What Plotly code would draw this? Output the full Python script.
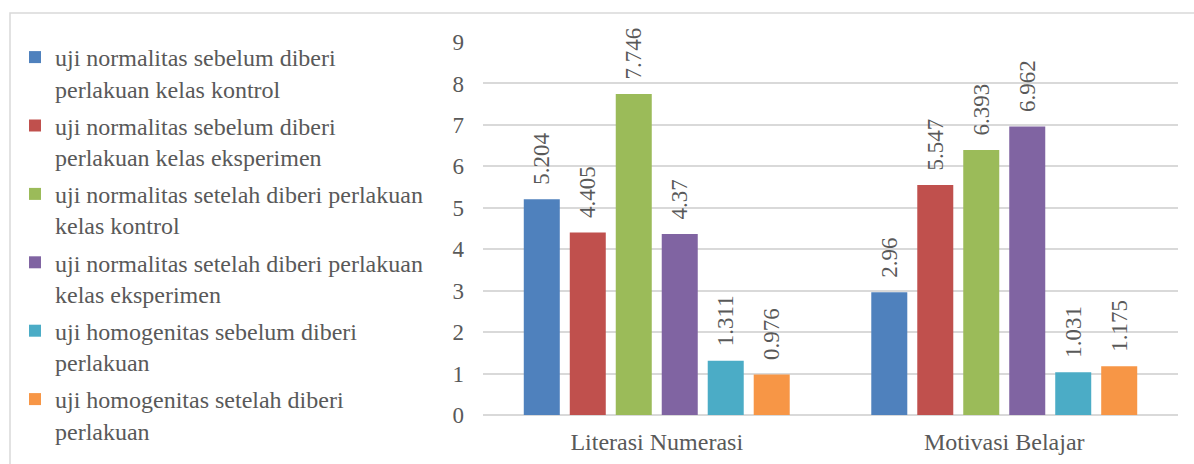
import plotly.graph_objects as go

categories = ["Literasi Numerasi", "Motivasi Belajar"]
series_names = [
    "uji normalitas sebelum diberi<br>perlakuan kelas kontrol",
    "uji normalitas sebelum diberi<br>perlakuan kelas eksperimen",
    "uji normalitas setelah diberi perlakuan<br>kelas kontrol",
    "uji normalitas setelah diberi perlakuan<br>kelas eksperimen",
    "uji homogenitas sebelum diberi<br>perlakuan",
    "uji homogenitas setelah diberi<br>perlakuan",
]
s1 = [5.204, 2.96]
s2 = [4.405, 5.547]
s3 = [7.746, 6.393]
s4 = [4.37, 6.962]
s5 = [1.311, 1.031]
s6 = [0.976, 1.175]
series_values = [s1, s2, s3, s4, s5, s6]
colors = ["#4F81BD", "#C0504D", "#9BBB59", "#8064A2", "#4BACC6", "#F79646"]
y_ticks = [0, 1, 2, 3, 4, 5, 6, 7, 8, 9]

FONT = "Liberation Serif"
TXT = "#595959"
GRID = "#D9D9D9"

W, H = 1194, 464
ML, MR, MT, MB = 483, 16, 42, 49

fig = go.Figure()
for i, (name, vals) in enumerate(zip(series_names, series_values)):
    fig.add_trace(go.Bar(
        x=categories, y=vals, name=name,
        marker=dict(color=colors[i], line=dict(width=0)),
        text=["\u00a0\u00a0" + f"{v:g}" for v in vals],
        textposition="outside", textangle=-90, constraintext="none",
        textfont=dict(family=FONT, size=23, color=TXT),
        cliponaxis=False,
        legendgroup=f"g{i}",
    ))

pw = W - ML - MR
ph = H - MT - MB
def px_x(p):
    return (p - ML) / pw
def px_y(p):
    return (H - MB - p) / ph

fig.add_shape(type="rect", xref="paper", yref="paper",
              x0=px_x(10), x1=px_x(1210), y0=px_y(480), y1=px_y(13),
              line=dict(color=GRID, width=1.5), fillcolor="rgba(0,0,0,0)", layer="below")

fig.update_layout(
    width=W, height=H,
    margin=dict(l=ML, r=MR, t=MT, b=MB, autoexpand=False),
    paper_bgcolor="white", plot_bgcolor="white",
    barmode="group", bargap=0.206, bargroupgap=0.217,
    font=dict(family=FONT, size=24, color=TXT),
    showlegend=True,
    legend=dict(
        xref="container", yref="container",
        x=15 / W, xanchor="left",
        y=1 - 35 / H, yanchor="top",
        valign="top",
        maxheight=1.0,
        font=dict(family=FONT, size=24, color=TXT),
        tracegroupgap=3,
        bgcolor="rgba(0,0,0,0)",
    ),
    xaxis=dict(showgrid=False, showline=False, ticks="", automargin=False,
               tickfont=dict(family=FONT, size=24, color=TXT),
               ticklabelstandoff=10),
    yaxis=dict(range=[0, 9], tickvals=y_ticks, showgrid=True, gridcolor=GRID, gridwidth=1.5,
               zeroline=True, zerolinecolor=GRID, zerolinewidth=1.5, automargin=False,
               showline=False, ticks="", tickfont=dict(family=FONT, size=23, color=TXT),
               ticklabelstandoff=18),
)

fig.write_html("out.html")
